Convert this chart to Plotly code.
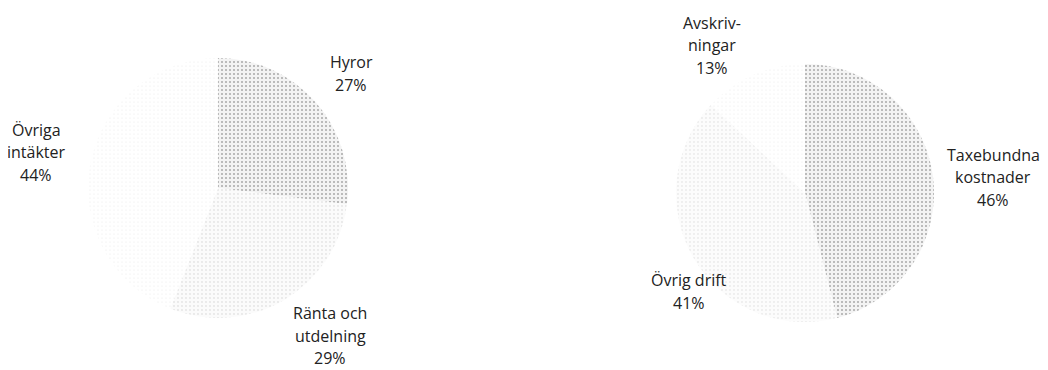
import plotly.graph_objects as go

# Left pie: income
income_labels = ["Hyror", "Ränta och utdelning", "Övriga intäkter"]
income_text = ["Hyror<br>27%", "Ränta och<br>utdelning<br>29%", "Övriga<br>intäkter<br>44%"]
income_values = [27, 29, 44]

# Right pie: costs
cost_labels = ["Taxebundna kostnader", "Övrig drift", "Avskrivningar"]
cost_text = ["Taxebundna<br>kostnader<br>46%", "Övrig drift<br>41%", "Avskriv-<br>ningar<br>13%"]
cost_values = [46, 41, 13]

# page body has an 8px default margin, so the figure is 8px smaller and offset
OFF = 8
W, H = 1048 - OFF, 370 - OFF

def dom(cx, cy, r):
    cx, cy = cx - OFF, cy - OFF
    return dict(x=[(cx - r) / W, (cx + r) / W], y=[(H - cy - r) / H, (H - cy + r) / H])

fig = go.Figure()
fig.add_trace(go.Pie(
    labels=income_labels, values=income_values, sort=False, direction="clockwise",
    rotation=0, textinfo="none", hoverinfo="label+percent", showlegend=False,
    domain=dom(218, 188, 130),
    marker=dict(colors=["#eeeeee", "#f9f9f9", "#fdfdfd"], line=dict(width=0),
                pattern=dict(shape=[".", ".", "."], fgcolor=["#a8a8a8", "#d2d2d2", "#e8e8e8"],
                             bgcolor=["#f3f3f3", "#fbfbfb", "#ffffff"], size=4, solidity=[0.2, 0.1, 0.05])),
))
fig.add_trace(go.Pie(
    labels=cost_labels, values=cost_values, sort=False, direction="clockwise",
    rotation=0, textinfo="none", hoverinfo="label+percent", showlegend=False,
    domain=dom(805, 193, 129),
    marker=dict(colors=["#eeeeee", "#fafafa", "#fdfdfd"], line=dict(width=0),
                pattern=dict(shape=[".", ".", "."], fgcolor=["#a8a8a8", "#d8d8d8", "#e8e8e8"],
                             bgcolor=["#f3f3f3", "#fcfcfc", "#ffffff"], size=4, solidity=[0.2, 0.08, 0.05])),
))

# (center x, first-line center y) of each label block, in page pixels
label_pos = {
    "income": [(351, 62), (330, 313), (36, 130)],
    "cost": [(993, 155), (689, 280), (712, 23)],
}
LINE = 22.5
font = dict(family="Open Sans, Noto Sans, sans-serif", size=16, color="#222222")
for key, texts in (("income", income_text), ("cost", cost_text)):
    for txt, (x, y) in zip(texts, label_pos[key]):
        for i, line in enumerate(txt.split("<br>")):
            fig.add_annotation(x=(x - OFF) / W, y=1 - (y + i * LINE - OFF) / H,
                               xref="paper", yref="paper", text=line,
                               showarrow=False, font=font, xanchor="center", yanchor="middle")

fig.update_layout(width=W, height=H, margin=dict(l=0, r=0, t=0, b=0),
                  paper_bgcolor="white", plot_bgcolor="white")
fig.write_html("out.html")
